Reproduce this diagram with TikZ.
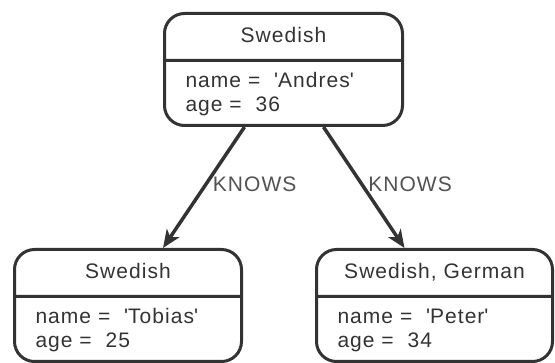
\documentclass[tikz,border=0pt]{standalone}
\usepackage{fontspec}
\setmainfont{Liberation Sans}[LetterSpace=5]
\usetikzlibrary{arrows.meta,shapes.multipart}
\definecolor{ink}{HTML}{333333}

\begin{document}
\begin{tikzpicture}[
  x=1pt,y=-1pt,
  record/.style={rectangle split, rectangle split parts=2, rectangle split part align={center,left}, draw=ink, line width=3pt, rounded corners=20pt, inner xsep=21pt, inner ysep=0pt, anchor=north west, text=ink, font=\fontsize{21}{24}\selectfont},
  rel/.style={-{Stealth[length=18pt,width=15pt,inset=5pt]}, draw=ink, line width=3.5pt},
  lbl/.style={anchor=west, inner sep=0pt, xshift=5pt, text=ink!85, font=\fontsize{21}{24}\selectfont}
]
\useasboundingbox (0,0) rectangle (555,363);
\newcommand{\hd}[1]{\rule[-16pt]{0pt}{44pt}#1}
\newcommand{\bd}[2]{\begin{tabular}[t]{@{}l@{}}\rule{0pt}{26pt}#1\\#2\rule[-12pt]{0pt}{12pt}\end{tabular}}
\newcommand{\q}[1]{\textquotesingle#1\textquotesingle}
\node[record, minimum width=238pt] (andres) at (163,12) {\hd{Swedish}\nodepart{two}\bd{name = \ \q{Andres}}{age = \ 36}};
\node[record, minimum width=227pt] (tobias) at (13,248) {\hd{Swedish}\nodepart{two}\bd{name = \ \q{Tobias}}{age = \ 25}};
\node[record, minimum width=236pt] (peter) at (315,248) {\hd{Swedish, German}\nodepart{two}\bd{name = \ \q{Peter}}{age = \ 34}};
\draw[rel] ([xshift=-39pt]andres.south) -- node[lbl, pos=0.47] {KNOWS} ([xshift=35pt]tobias.north);
\draw[rel] ([xshift=40pt]andres.south) -- node[lbl, pos=0.47] {KNOWS} ([xshift=-30pt]peter.north);
\end{tikzpicture}
\end{document}
